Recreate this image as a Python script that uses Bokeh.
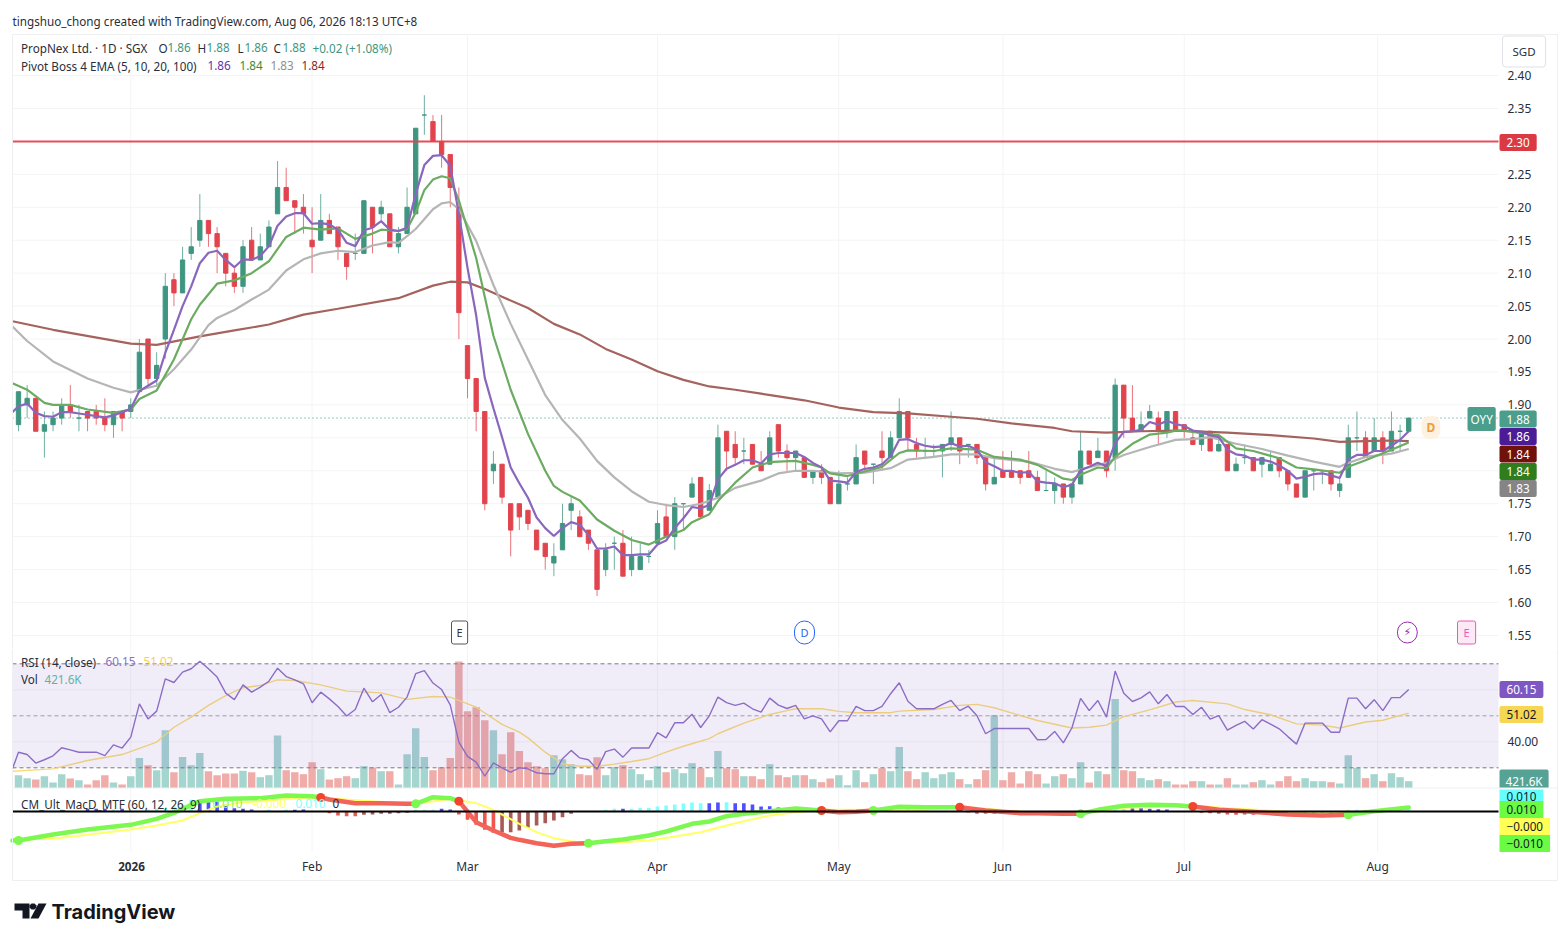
from bokeh.plotting import figure
from bokeh.layouts import column
from bokeh.models import (Range1d, LinearAxis, FixedTicker, Label, BoxAnnotation, PolyAnnotation,
                          NumeralTickFormatter, ColumnDataSource)
from bokeh.embed import file_html
from bokeh.resources import INLINE

# ---------- data ----------
open_ = [1.87,1.90,1.91,1.86,1.87,1.88,1.90,1.88,1.89,1.89,1.88,1.87,1.89,1.89,1.92,2.00,1.94,2.00,2.09,2.07,
 2.13,2.15,2.18,2.16,2.13,2.10,2.08,2.15,2.12,2.14,2.19,2.23,2.21,2.20,2.15,2.15,2.18,2.17,2.13,2.13,
 2.13,2.20,2.19,2.19,2.14,2.16,2.19,2.34,2.33,2.30,2.28,2.20,1.99,1.94,1.89,1.80,1.81,1.75,1.75,1.74,
 1.71,1.69,1.66,1.68,1.74,1.73,1.71,1.68,1.65,1.69,1.69,1.65,1.65,1.67,1.69,1.73,1.70,1.75,1.76,1.79,
 1.74,1.76,1.86,1.84,1.83,1.84,1.81,1.81,1.87,1.83,1.82,1.82,1.79,1.80,1.79,1.75,1.78,1.78,1.83,1.81,
 1.83,1.82,1.85,1.89,1.84,1.83,1.83,1.83,1.84,1.85,1.84,1.84,1.82,1.78,1.80,1.80,1.80,1.80,1.79,1.77,
 1.77,1.78,1.76,1.78,1.83,1.82,1.83,1.82,1.93,1.88,1.86,1.88,1.88,1.86,1.89,1.87,1.85,1.84,1.86,1.83,
 1.84,1.80,1.82,1.82,1.81,1.80,1.82,1.80,1.78,1.76,1.80,1.80,1.80,1.77,1.79,1.85,1.85,1.83,1.85,1.83,
 1.86,1.86]
high = [1.92,1.93,1.91,1.89,1.89,1.91,1.93,1.90,1.89,1.90,1.91,1.89,1.89,1.91,2.00,2.00,1.98,2.10,2.10,2.14,
 2.17,2.22,2.18,2.17,2.13,2.11,2.15,2.17,2.16,2.18,2.27,2.26,2.21,2.22,2.20,2.22,2.19,2.17,2.13,2.16,
 2.21,2.20,2.21,2.19,2.17,2.23,2.32,2.37,2.34,2.34,2.28,2.23,1.99,1.94,1.89,1.83,1.81,1.75,1.75,1.74,
 1.71,1.69,1.69,1.75,1.76,1.74,1.71,1.68,1.69,1.70,1.71,1.70,1.69,1.68,1.74,1.75,1.76,1.75,1.79,1.79,
 1.78,1.87,1.86,1.86,1.85,1.84,1.83,1.86,1.87,1.84,1.83,1.82,1.80,1.81,1.79,1.80,1.79,1.84,1.83,1.81,
 1.86,1.86,1.91,1.89,1.85,1.85,1.84,1.84,1.89,1.85,1.84,1.84,1.82,1.82,1.83,1.83,1.80,1.83,1.80,1.80,
 1.79,1.78,1.78,1.86,1.83,1.85,1.83,1.94,1.93,1.93,1.89,1.90,1.89,1.89,1.89,1.87,1.86,1.86,1.86,1.85,
 1.84,1.82,1.84,1.82,1.82,1.83,1.82,1.80,1.78,1.80,1.80,1.80,1.80,1.79,1.87,1.89,1.86,1.88,1.86,1.89,
 1.87,1.88]
low = [1.86,1.88,1.86,1.82,1.86,1.87,1.88,1.86,1.86,1.87,1.86,1.85,1.86,1.88,1.92,1.93,1.93,1.97,2.05,2.07,
 2.12,2.14,2.14,2.10,2.08,2.07,2.07,2.12,2.12,2.14,2.19,2.21,2.16,2.16,2.10,2.15,2.16,2.12,2.09,2.12,
 2.13,2.13,2.18,2.14,2.13,2.16,2.19,2.31,2.30,2.26,2.20,2.00,1.91,1.86,1.74,1.78,1.75,1.67,1.71,1.71,
 1.68,1.65,1.64,1.68,1.71,1.70,1.68,1.61,1.64,1.65,1.64,1.64,1.65,1.66,1.69,1.70,1.68,1.71,1.76,1.73,
 1.74,1.76,1.80,1.81,1.81,1.81,1.80,1.81,1.82,1.80,1.80,1.79,1.78,1.78,1.75,1.75,1.77,1.78,1.80,1.78,
 1.80,1.82,1.85,1.83,1.82,1.82,1.82,1.79,1.83,1.81,1.82,1.81,1.77,1.78,1.79,1.79,1.78,1.79,1.77,1.77,
 1.75,1.75,1.75,1.78,1.81,1.82,1.79,1.80,1.85,1.86,1.86,1.88,1.84,1.85,1.86,1.85,1.84,1.83,1.83,1.83,
 1.80,1.80,1.81,1.80,1.79,1.80,1.79,1.77,1.76,1.76,1.77,1.78,1.77,1.76,1.79,1.83,1.82,1.83,1.81,1.83,
 1.83,1.86]
close = [1.92,1.91,1.86,1.87,1.88,1.90,1.89,1.88,1.88,1.88,1.87,1.89,1.88,1.90,1.98,1.94,1.96,2.08,2.07,2.12,
 2.14,2.18,2.16,2.14,2.10,2.08,2.14,2.12,2.14,2.17,2.23,2.21,2.20,2.19,2.14,2.18,2.16,2.14,2.11,2.13,
 2.21,2.17,2.20,2.14,2.16,2.20,2.32,2.34,2.30,2.28,2.23,2.04,1.94,1.89,1.75,1.81,1.76,1.71,1.73,1.72,
 1.68,1.67,1.67,1.72,1.75,1.70,1.69,1.62,1.68,1.69,1.64,1.67,1.67,1.67,1.72,1.70,1.75,1.75,1.78,1.73,
 1.77,1.85,1.83,1.82,1.83,1.81,1.80,1.85,1.83,1.82,1.83,1.79,1.80,1.79,1.75,1.78,1.78,1.82,1.81,1.81,
 1.82,1.85,1.89,1.85,1.83,1.83,1.83,1.84,1.85,1.83,1.84,1.82,1.78,1.79,1.79,1.79,1.79,1.79,1.77,1.77,
 1.78,1.76,1.78,1.83,1.81,1.83,1.80,1.93,1.88,1.86,1.87,1.89,1.86,1.89,1.86,1.86,1.84,1.86,1.83,1.84,
 1.80,1.81,1.82,1.80,1.82,1.81,1.80,1.78,1.76,1.80,1.80,1.80,1.78,1.78,1.85,1.85,1.82,1.85,1.83,1.86,
 1.86,1.88]
volume_k = [768,595,518,710,346,826,576,480,230,480,768,346,230,710,1766,1344,1056,3360,941,1824,
 1344,2054,998,768,864,864,1018,941,653,768,3053,1056,941,826,1517,1114,518,595,710,595,
 1286,1210,998,998,230,1978,3475,1824,1056,1229,1766,7334,4454,4685,3936,3360,1978,3245,2170,1517,
 1286,1171,1920,1690,1402,826,768,1805,768,1229,1344,1114,826,480,1286,941,1114,883,1459,1171,
 653,2170,1171,1114,710,710,538,1402,768,653,768,768,538,365,576,768,192,1056,365,826,
 1171,998,2400,998,538,941,595,826,941,538,250,538,1056,4224,480,941,288,998,826,288,
 710,826,595,1517,346,998,826,5165,1056,998,595,480,538,422,230,230,422,422,230,230,
 595,230,230,365,480,230,422,710,422,595,422,422,365,288,1920,1190,595,826,422,883,
 653,422]

ema5 = [1.889,1.898,1.902,1.888,1.883,1.882,1.889,1.889,1.887,1.885,1.883,1.881,1.884,1.889,1.894,1.921,1.929,1.937,1.979,2.014,2.05,
 2.08,2.115,2.131,2.134,2.12,2.109,2.121,2.12,2.126,2.141,2.172,2.186,2.191,2.191,2.175,2.176,2.174,2.166,2.146,2.141,
 2.165,2.169,2.179,2.166,2.164,2.169,2.22,2.264,2.278,2.279,2.263,2.19,2.108,2.036,1.941,1.895,1.851,1.805,1.781,1.759,
 1.729,1.713,1.701,1.713,1.722,1.718,1.703,1.682,1.682,1.685,1.672,1.672,1.673,1.673,1.688,1.694,1.713,1.728,1.745,1.743,
 1.748,1.787,1.803,1.809,1.816,1.816,1.811,1.825,1.827,1.827,1.827,1.821,1.812,1.805,1.785,1.784,1.782,1.798,1.803,1.805,
 1.81,1.822,1.847,1.848,1.842,1.838,1.836,1.837,1.842,1.837,1.838,1.832,1.813,1.807,1.80,1.80,1.797,1.798,1.784,1.782,
 1.781,1.775,1.779,1.801,1.806,1.812,1.807,1.842,1.859,1.86,1.862,1.874,1.87,1.876,1.871,1.868,1.861,1.859,1.854,1.851,
 1.832,1.825,1.823,1.817,1.817,1.814,1.808,1.80,1.788,1.791,1.795,1.796,1.793,1.789,1.817,1.824,1.824,1.83,1.83,1.838,
 1.847,1.86]
ema5_idx = [-0.7] + list(range(162))

ema10_idx = [-0.7,1,3,4,6,8,11,13,14,16,18,20,21,23,25,27,29,31,33,35,37,39,41,42,44,45,46,47,48,49,50,51,53,55,57,59,61,62,63,65,67,69,71,73,75,77,78,80,81,83,85,87,88,90,92,93,94,96,98,100,102,103,106,108,111,113,116,118,121,122,123,125,126,127,129,131,133,134,135,137,139,141,143,146,148,150,153,154,156,159,161]
ema10 = [1.933,1.923,1.903,1.90,1.90,1.893,1.888,1.893,1.909,1.922,1.969,2.03,2.052,2.084,2.089,2.10,2.118,2.155,2.169,2.166,2.168,2.152,2.16,2.166,2.164,2.167,2.192,2.226,2.242,2.247,2.244,2.21,2.123,2.005,1.923,1.856,1.80,1.777,1.768,1.755,1.726,1.709,1.695,1.688,1.70,1.71,1.722,1.734,1.754,1.782,1.805,1.813,1.814,1.815,1.809,1.805,1.796,1.792,1.799,1.806,1.827,1.831,1.83,1.834,1.832,1.821,1.817,1.809,1.788,1.786,1.794,1.805,1.804,1.821,1.841,1.855,1.858,1.861,1.861,1.857,1.854,1.834,1.83,1.819,1.805,1.802,1.797,1.806,1.816,1.832,1.843]

ema20_idx = [-0.7,1,4,8,11,13,15,16,18,20,22,23,25,27,29,31,33,35,37,39,41,43,44,45,46,48,49,50,51,53,55,57,59,61,63,65,67,69,71,73,75,77,79,81,83,86,88,90,92,95,98,101,103,106,108,111,113,117,120,122,123,126,128,131,134,136,138,141,144,147,150,153,154,156,159,161]
ema20 = [2.019,1.997,1.966,1.94,1.926,1.919,1.926,1.929,1.954,1.984,2.021,2.032,2.044,2.06,2.075,2.104,2.121,2.13,2.134,2.132,2.142,2.147,2.146,2.156,2.167,2.197,2.206,2.208,2.197,2.149,2.082,2.023,1.969,1.915,1.877,1.849,1.815,1.79,1.769,1.753,1.748,1.745,1.75,1.759,1.774,1.785,1.796,1.80,1.80,1.796,1.797,1.804,1.817,1.821,1.825,1.825,1.819,1.814,1.803,1.798,1.802,1.812,1.824,1.836,1.847,1.848,1.851,1.841,1.833,1.823,1.814,1.806,1.812,1.821,1.826,1.833]

ema100_idx = [-0.7,4,13,16,21,25,29,33,37,44,48,50,52,54,56,59,62,65,68,71,74,77,80,83,86,88,91,95,99,103,108,111,115,120,122,126,130,134,140,145,150,153,156,159,161]
ema100 = [2.027,2.014,1.993,1.991,2.004,2.013,2.022,2.037,2.046,2.062,2.081,2.087,2.086,2.076,2.064,2.047,2.023,2.007,1.985,1.969,1.951,1.938,1.928,1.923,1.917,1.913,1.907,1.896,1.889,1.887,1.882,1.879,1.872,1.865,1.860,1.858,1.86,1.861,1.858,1.854,1.849,1.844,1.845,1.846,1.845]

rsi = [29.6,36,35.1,31.8,33.1,34.6,37.7,36.9,36,36,36,34.7,38.8,37.6,41.8,54.6,48.8,51.8,64.2,62.8,66.8,
 68.1,71,68.1,64.9,58.7,56.2,61.9,59.1,61,63.3,68.3,65.1,63.8,62.3,55,59.1,56.5,53.6,49.9,52.4,
 60.6,55.4,58.2,51.2,53.3,57.2,66.2,67.4,62.6,60.1,54.2,39.9,34.4,32.2,26.8,31.9,30,28.3,30,29.6,
 28.1,27.7,27.7,33.5,36.7,33.8,33.1,29.4,36.2,37.2,34.1,37.6,37.6,37.6,43.5,41.5,47.3,47.3,50.6,45.5,
 50,57.2,55.1,54,54.9,52.7,51.4,56.8,54.1,52.8,54,48.8,50,48.8,43.8,48.1,48.1,53.6,52,52,
 53.6,58.5,62.7,55.6,52.7,52.7,52.7,54.4,55.9,52,53.7,50,43.1,45.1,45.1,45.1,45.1,45.1,40.8,40.9,
 44,39.6,45.4,56.7,52,55.9,49.5,67.2,58.7,55.5,56.9,59.2,54.6,58.2,53.6,53.6,50.5,53.3,48.7,50.1,
 44.5,46.3,47.9,44.9,48.5,46.8,45,42,39.1,47.2,47.2,47.2,43.7,43.7,56.8,56.8,52.7,56.2,52,57,
 57,60.15]
rsi_idx = [-0.7] + list(range(162))

rsi_ma_idx = [-0.7,4,8,12,16,18,20,22,24,26,28,30,32,35,38,42,45,48,50,53,56,58,59,61,63,65,67,69,71,73,75,77,80,81,84,87,89,90,93,95,97,101,102,106,109,111,113,116,118,122,124,126,128,131,134,136,140,142,145,148,151,153,156,158,161]
rsi_ma = [28.7,29.6,32.8,35.1,39.9,45.6,49.5,54,57.8,60.8,61.7,63.8,63.6,61.9,59.5,58.8,56.3,57.4,57.2,53.3,46.7,43.7,41.5,36,31.5,30.6,30.6,31.4,32.4,33.5,36,38.3,41.2,43.1,47.2,50.5,52,52.7,52.7,51.7,51.2,51.2,51.8,52.4,54,54.4,53.1,50.1,48.2,45.3,45.6,46.4,49.7,52.3,55.3,55.9,54.6,52.4,50.4,46.9,46.4,45.3,47.6,48.3,51.02]

macd_idx = [-0.7,0,4,8,13,16,18,21,24,28,31,34,35,36,39,42,45,46,48,50,51,53,55,57,58,60,62,64,66,68,70,73,75,78,80,82,84,87,90,93,95,97,99,102,105,109,112,116,118,121,123,125,128,131,134,136,139,142,147,151,154,157,161]
macd = [-0.087,-0.087,-0.069,-0.054,-0.04,-0.022,-0.004,0.031,0.038,0.04,0.048,0.046,0.042,0.036,0.025,0.025,0.023,0.023,0.043,0.04,0.031,-0.032,-0.057,-0.079,-0.085,-0.095,-0.103,-0.097,-0.095,-0.089,-0.084,-0.072,-0.06,-0.037,-0.03,-0.014,-0.007,0.001,0.009,0.003,-0.002,-0.001,0.003,0.014,0.013,0.013,0.003,-0.005,-0.005,-0.007,-0.007,0.005,0.017,0.02,0.019,0.015,0.005,0.001,-0.009,-0.012,-0.01,0.001,0.012]
signal_idx = [-0.7,4,8,13,16,19,21,23,25,30,34,36,40,45,48,50,53,55,58,60,62,64,66,70,73,76,79,83,87,90,93,97,101,105,109,112,116,118,121,125,128,131,136,140,145,149,152,154,158,161]
signal = [-0.083,-0.082,-0.07,-0.054,-0.042,-0.027,-0.005,0.015,0.024,0.036,0.042,0.04,0.032,0.024,0.03,0.038,0.025,0.005,-0.037,-0.062,-0.08,-0.089,-0.095,-0.092,-0.087,-0.075,-0.062,-0.035,-0.012,-0.002,0.005,0.005,0.003,0.005,0.015,0.008,0,-0.002,-0.004,0,0.011,0.013,0.018,0.01,0.003,-0.005,-0.005,-0.004,0.003,0.008]
macd_cross = [-0.7,35,46,51,66,93,99,109,123,136,154,161]

hist_idx = [5,8,9,10,11,12,15,16,17,18,19,20,21,22,23,24,25,26,27,29,31,32,33,36,37,38,39,40,41,42,43,44,45,46,47,48,49,50,51,52,53,54,55,56,57,58,59,60,61,62,63,64,68,69,70,71,72,73,74,75,76,77,78,79,80,81,82,83,84,85,86,87,88,89,90,94,95,96,97,98,102,103,104,110,111,112,113,114,115,116,117,118,119,120,121,122,127,128,129,130,131,132,133,137,138,139,140,141,142,143,144,145,146,147,148,149,150,151,152,153,155,156,157,158,159,160,161]
hist_val = [.006,.008,.008,.008,.006,.008,.006,.008,.01,.015,.02,.035,.033,.033,.03,.02,.01,.008,.006,.005,.005,.005,.006,-.005,-.012,-.014,-.014,-.01,-.009,-.007,-.007,-.005,-.004,.005,.005,.005,.008,.006,-.009,-.025,-.04,-.055,-.064,-.062,-.062,-.057,-.049,-.042,-.035,-.027,-.017,-.007,.005,.008,.008,.008,.011,.011,.015,.018,.021,.024,.027,.025,.025,.027,.028,.025,.025,.021,.015,.016,.012,.009,.009,-.004,-.004,-.004,-.004,-.003,.006,.009,.006,-.003,-.007,-.007,-.007,-.007,-.007,-.007,-.007,-.007,-.006,-.006,-.006,-.005,.007,.008,.011,.011,.008,.007,.006,-.004,-.005,-.007,-.009,-.01,-.009,-.01,-.007,-.007,-.007,-.009,-.009,-.007,-.005,-.005,-.005,-.004,.005,.005,.005,.006,.005,.005,.006]
hist_state = "abbbabaaaaaabbbbbbbaabb" + "rrrrmmmmmm" + "aaabb" + "rrrrrmmmmmmmmm" + "aabaaaaaaaaabbabbbbbbbb" + "rrrrr" + "abb" + "rrrrrrmmmmmmm" + "aabbbbb" + "rrrrrmrmmmrrmmmmm" + "aaabaaa"

month_ticks = [13,34,52,74,95,114,135,157.4]
month_labels = ["","Feb","Mar","Apr","May","Jun","Jul","Aug"]
price_ticks = [1.55,1.60,1.65,1.70,1.75,1.80,1.85,1.90,1.95,2.00,2.05,2.10,2.15,2.20,2.25,2.30,2.35,2.40]

# ---------- layout (page pixels) ----------
FONT = "Noto Sans"
LEFT, RIGHT = 12, 1498
PAGE_W = 1560
A_TOP, A_BOT = 35, 648
B_BOT = 788
C_BOT = 851
PAGE_BOT = 936
PX_PER_BAR = 8.635
x_start = (LEFT-18)/PX_PER_BAR
x_end = (RIGHT-18)/PX_PER_BAR

GREEN, RED = "#3f9680", "#e2444e"
TEXT = "#2a2e39"
GRID = "#f3f4f5"
x_range = Range1d((0-18)/PX_PER_BAR, (PAGE_W-18)/PX_PER_BAR)

def make(h, y_range):
    f = figure(width=PAGE_W, height=h, x_range=x_range, y_range=y_range, output_backend="svg",
               toolbar_location=None, min_border_left=0, min_border_right=0,
               min_border_top=0, min_border_bottom=0, x_axis_location=None, y_axis_location=None,
               background_fill_color="white", border_fill_color="white", outline_line_color=None)
    f.xgrid.visible = False; f.ygrid.visible = False
    return f

def add_axis(f, ticks, fmt="0.00"):
    ax = LinearAxis(ticker=FixedTicker(ticks=ticks), axis_line_color=None, major_tick_line_color=None,
                    minor_tick_line_color=None, major_label_text_font=FONT, major_label_text_font_size="12px",
                    major_label_text_color=TEXT, major_label_standoff=3, fixed_location=x_end,
                    formatter=NumeralTickFormatter(format=fmt))
    f.add_layout(ax, "right")

yA = Range1d(2.40-(A_BOT-75)/658.8, 2.40+75/658.8)
yB = Range1d(30-(B_BOT-767.3)/2.6, 70+(663.3-A_BOT)/2.6)
yC = Range1d(-0.003*(PAGE_BOT-811), 0.003*(811-B_BOT))
pA = make(A_BOT, yA)
pB = make(B_BOT-A_BOT, yB)
pC = make(PAGE_BOT-B_BOT, yC)

def label(f, bot, px, py, text, color=TEXT, size=11.7, align="left", weight="normal", bg=None, pad=None, border=None,
          radius=None, font=FONT):
    kw = {}
    if bg: kw.update(background_fill_color=bg)
    if pad is not None: kw.update(padding=pad)
    if border: kw.update(border_line_color=border)
    if radius is not None: kw.update(border_radius=radius)
    f.add_layout(Label(x=px, y=bot-py, x_units="screen", y_units="screen", text=text, text_color=color,
                       text_font=font, text_font_size=f"{size}px", text_align=align, text_baseline="middle",
                       text_font_style=weight, **kw))

def poly(f, bot, xs, ys, fill=None, line=None, lw=1):
    f.add_layout(PolyAnnotation(xs=list(xs), ys=[bot-y for y in ys], xs_units="screen", ys_units="screen",
                                fill_color=fill, fill_alpha=1 if fill else 0, line_color=line, line_alpha=1 if line else 0,
                                line_width=lw))

def grids(f, y0, y1, y_ticks=()):
    f.segment(month_ticks, y0, month_ticks, y1, line_color=GRID, line_width=1)
    if len(y_ticks):
        f.segment(x_start, list(y_ticks), x_end, list(y_ticks), line_color=GRID, line_width=1)

def hline(f, y, **kw):
    f.line([x_start, x_end], [y, y], **kw)

# ---------- main panel ----------
grids(pA, yA.start, 2.40+(75-A_TOP)/658.8, price_ticks)
add_axis(pA, price_ticks)
idx = list(range(len(close)))
cols = [GREEN if c >= o else RED for o, c in zip(open_, close)]
src = ColumnDataSource(dict(x=idx, o=open_, h=high, l=low, c=close, col=cols))
hline(pA, close[-1], line_color="#2f9a86", line_width=1, line_dash="1 3")
pA.segment("x", "h", "x", "l", source=src, color="col", line_width=1, line_alpha=0.75)
pA.vbar("x", 0.5, "o", "c", source=src, fill_color="col", line_color="col", line_width=1)
hline(pA, 2.30, line_color="#e0464e", line_width=2, line_alpha=0.95)
pA.line(ema100_idx, ema100, line_color="#a4635d", line_width=2.2)
pA.line(ema20_idx, ema20, line_color="#b5b5b5", line_width=2.2)
pA.line(ema10_idx, ema10, line_color="#6cab62", line_width=2.2)
pA.line(ema5_idx, ema5, line_color="#8a66bd", line_width=2.2)

# header / legend
bA = A_BOT
label(pA, bA, 12, 20, "tingshuo_chong created with TradingView.com, Aug 06, 2026 18:13 UTC+8", size=11.7)
label(pA, bA, 20.5, 47, "PropNex Ltd. · 1D · SGX")
for x, t, c in [(158,"O",TEXT),(167,"1.86",GREEN),(197,"H",TEXT),(206,"1.88",GREEN),(237,"L",TEXT),(244,"1.86",GREEN),
                (273,"C",TEXT),(282,"1.88",GREEN),(312,"+0.02 (+1.08%)",GREEN)]:
    label(pA, bA, x, 47, t, color=c)
label(pA, bA, 20.5, 65, "Pivot Boss 4 EMA (5, 10, 20, 100)")
for x, t, c in [(207,"1.86","#5e35a8"),(239,"1.84","#3e8a2e"),(270,"1.83","#8f8f8f"),(301,"1.84","#8a2a22")]:
    label(pA, bA, x, 65, t, color=c)

# right scale tags
label(pA, bA, 1502, 51, "SGD", size=11.5, bg="white", border="#dfe1e6", pad=(10, 8), radius=3)
for y, t, bg, fg in [(142,"2.30","#dc3a42","white"),(418.5,"1.88","#4a9e8b","white"),(436,"1.86","#4a1d96","white"),
                     (453.5,"1.84","#6e120b","white"),(471,"1.84","#2f7d1c","white"),(488,"1.83","#858585","white")]:
    label(pA, bA, 1499, y, t, color=fg, bg=bg, pad=(7, 4), radius=2)
label(pA, bA, 1467, 418.5, "OYY", color="white", bg="#4a9e8b", pad=(3, 4), radius=2)
label(pA, bA, 1421, 427, "D", color="#ef9a3c", size=12, weight="bold", bg="#fdf1df", pad=(5, 3), radius=8)
label(pA, bA, 451, 632, "E", color="#333333", size=11, bg="white", border="#555555", pad=(5, 4), radius=2)
label(pA, bA, 794, 632, "D", color="#2962ff", size=11, bg="white", border="#2962ff", pad=(6, 4), radius=10)
label(pA, bA, 1397, 632, "⚡", color="#9c27b0", size=11, bg="white", border="#9c27b0", pad=(6, 4), radius=10, font="DejaVu Sans")
label(pA, bA, 1457, 632, "E", color="#e65cb5", size=11, bg="#fde8f5", border="#e65cb5", pad=(6, 4), radius=2)

# ---------- RSI + volume ----------
grids(pB, yB.start, yB.end, [40, 60])
pB.extra_y_ranges = {"vol": Range1d(0, (B_BOT-A_BOT)*57.7)}
add_axis(pB, [40])
vcols = ["#a5d5cf" if c >= o else "#efaca9" for o, c in zip(open_, close)]
pB.vbar(idx, 0.86, volume_k, 0, y_range_name="vol", fill_color=vcols, line_color=None)
pB.add_layout(BoxAnnotation(bottom=30, top=70, left=x_start, right=x_end, fill_color="#7e57c2", fill_alpha=0.11,
                            line_color=None, level="glyph"))
for v, w in [(70, 1), (50, 0.7), (30, 1)]:
    hline(pB, v, line_color="#787b86", line_width=w, line_dash="4 3")
pB.line(rsi_ma_idx, rsi_ma, line_color="#f8dc76", line_width=1.4)
pB.line(rsi_idx, rsi, line_color="#8e70c6", line_width=1.4)
def lb(px, py, *a, **k): label(pB, B_BOT, px, py, *a, **k)
lb(20.5, 661, "RSI (14, close)")
lb(105, 661, "60.15", color="#8e70c6")
lb(143, 661, "51.02", color="#f3cf5a")
lb(20.5, 678, "Vol")
lb(44, 678, "421.6K", color="#5fb3a6")
lb(1499, 689, "60.15", color="white", bg="#7e57c2", pad=(7, 4), radius=2)
lb(1499, 714, "51.02", color="#131722", bg="#f6d653", pad=(7, 4), radius=2)
lb(1499, 780, "421.6K", color="white", bg="#56a396", pad=(6, 3), radius=2)

# ---------- MACD ----------
grids(pC, -0.003*(C_BOT-811), yC.end)
hist_col = {"a": "#7fffff", "b": "#4f4fff", "r": "#f0564e", "m": "#a85a55"}
pC.vbar(hist_idx, 0.42, hist_val, 0, fill_color=[hist_col[s] for s in hist_state], line_color=None)
pC.line(signal_idx, signal, line_color="#ffff66", line_width=2)
dots_x, dots_y, dots_c = [0], [macd[1]], ["#7cf850"]
for n, (a, b) in enumerate(zip(macd_cross[:-1], macd_cross[1:])):
    c = "#7cf850" if n % 2 == 0 else "#f2635a"
    seg = [(i, v) for i, v in zip(macd_idx, macd) if a <= i <= b]
    pC.line([s[0] for s in seg], [s[1] for s in seg], line_color=c, line_width=4.5, line_cap="round")
    if b != macd_cross[-1]:
        dots_x.append(seg[-1][0]); dots_y.append(seg[-1][1]); dots_c.append("#f2452f" if n % 2 == 0 else "#7cf850")
pC.scatter(dots_x, dots_y, size=9, fill_color=dots_c, line_color=None)
hline(pC, 0, line_color="#000000", line_width=2)
xax = LinearAxis(ticker=FixedTicker(ticks=month_ticks), axis_line_color=None, major_tick_line_color=None,
                 minor_tick_line_color=None, major_label_text_font=FONT, major_label_text_font_size="12px",
                 major_label_text_color=TEXT, major_label_standoff=0, fixed_location=-0.003*(C_BOT-811),
                 major_label_overrides={t: l for t, l in zip(month_ticks, month_labels)})
pC.add_layout(xax, "below")
def lc(px, py, *a, **k): label(pC, PAGE_BOT, px, py, *a, **k)
lc(20.5, 803, "CM_Ult_MacD_MTF (60, 12, 26, 9)")
lc(212, 803, "0.010", color="#7cf850")
lc(252, 803, "-0.000", color="#ffff66")
lc(295, 803, "0.010", color="#7fffff")
lc(332, 803, "0")
lc(131, 866, "2026", align="center", weight="bold")
lc(1499, 795.5, "0.010", color="#131722", bg="#66ffff", pad=(7, 2))
for y, t, bg in [(809,"0.010","#6cfb45"),(826,"−0.000","#ffff55"),(843,"−0.010","#6cfb45")]:
    lc(1499, y, t, color="#131722", bg=bg, pad=(7, 4))

# TradingView wordmark
lc(51, 911, "TradingView", color="#131722", size=20, weight="bold", font="Inter")
poly(pC, PAGE_BOT, [14,29,29,22,22,14], [903,903,918,918,910,910], fill="#131722")
poly(pC, PAGE_BOT, [31,34,36,36,34,31,29,29], [903,903,905,907,909,909,907,905], fill="#131722")
poly(pC, PAGE_BOT, [38,46,38,30], [903,903,918,918], fill="#131722")

# frame
FR = "#eeeff1"
poly(pA, A_BOT, [12,1557,1557,12,12], [34,34,648,648,34], line=FR)
poly(pB, B_BOT, [12,12], [648,788], line=FR)
poly(pB, B_BOT, [1557,1557], [648,788], line=FR)
poly(pB, B_BOT, [12,1557], [787.5,787.5], line=FR)
poly(pC, PAGE_BOT, [12,12,1557,1557], [788,880,880,788], line=FR)

open("out.html", "w").write(file_html(column(pA, pB, pC, spacing=0), INLINE))
